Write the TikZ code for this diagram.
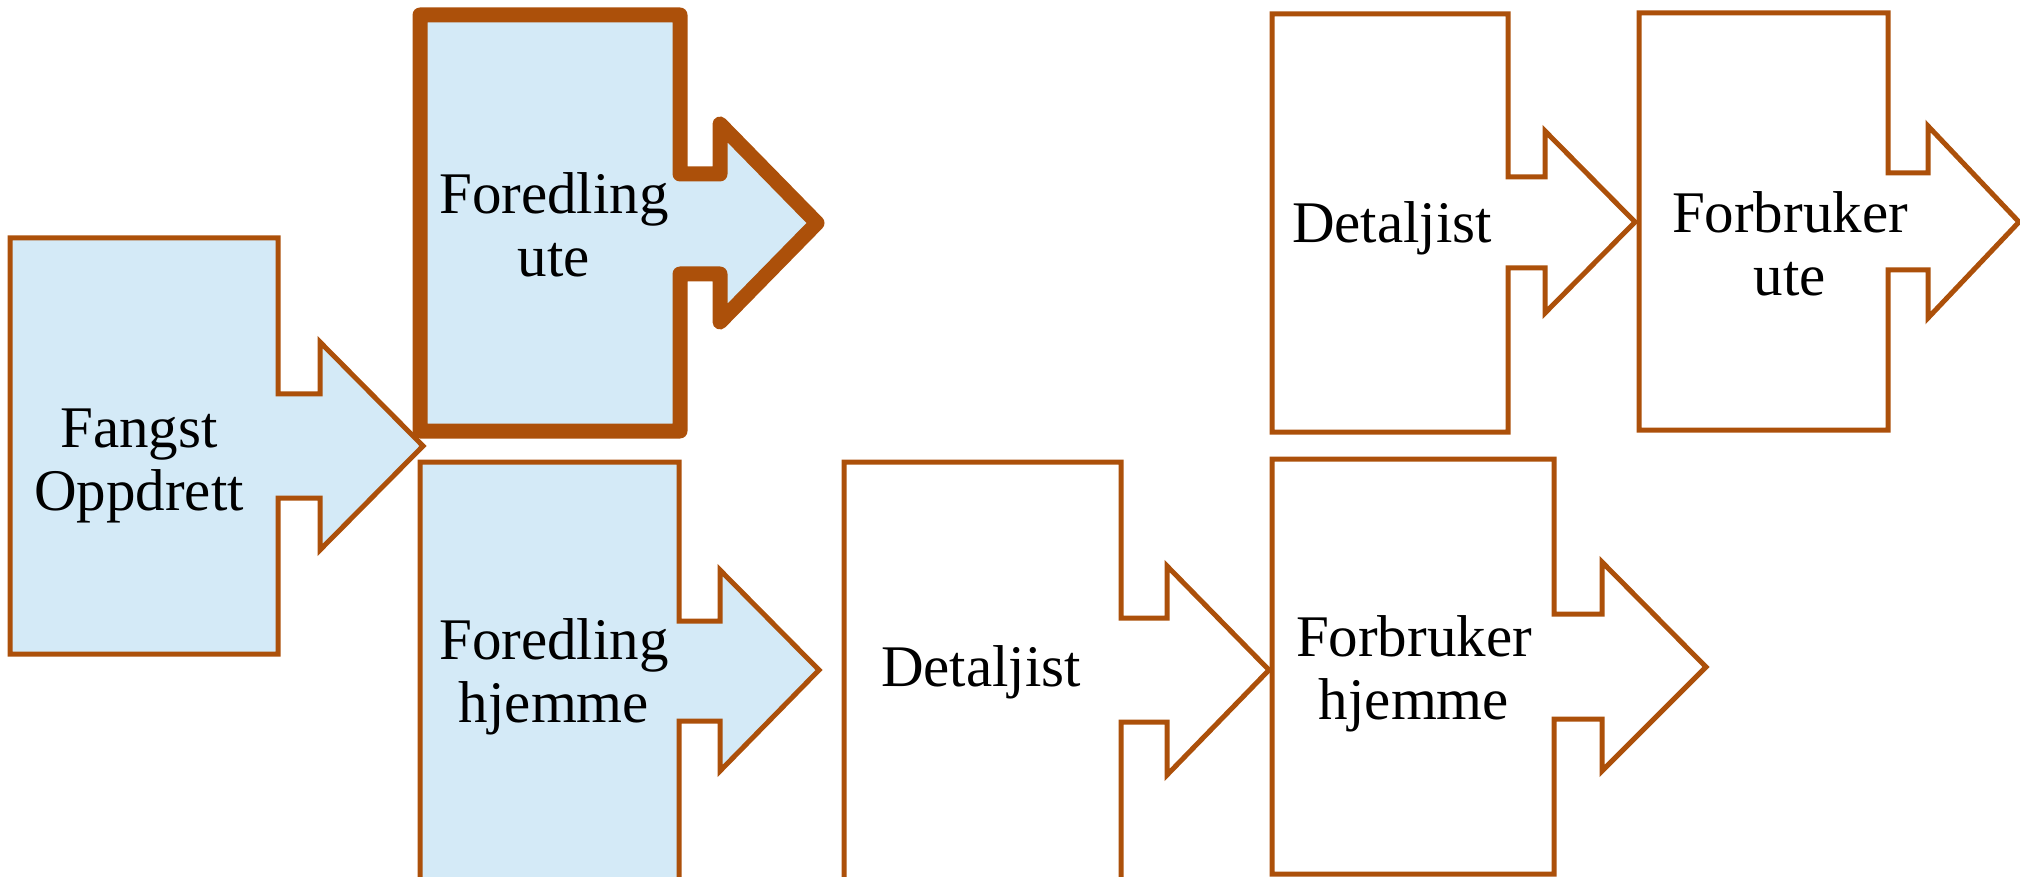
\documentclass[tikz,border=0pt]{standalone}
\usepackage{fontspec}
\setmainfont{Liberation Serif}
\definecolor{brd}{RGB}{172,80,10}
\definecolor{lblue}{RGB}{212,234,247}
\begin{document}
\begin{tikzpicture}[x=0.5pt,y=-0.5pt,
  shp/.style={draw=brd, line width=2.5pt, line join=miter},
  boldshp/.style={draw=brd, line width=7.5pt, line join=round},
  lbl/.style={font=\fontsize{29.5}{31.5}\selectfont, align=center, inner sep=0pt, text=black}]
\useasboundingbox (0,0) rectangle (2020,877);
\clip (0,0) rectangle (2020,877);
% Fangst / Oppdrett
\draw[shp, fill=lblue] (10,238) -- (278,238) -- (278,394) -- (320,394) -- (320,342) -- (423,446)
  -- (320,550) -- (320,498) -- (278,498) -- (278,654) -- (10,654) -- cycle;
% Foredling hjemme
\draw[shp, fill=lblue] (420,462) -- (679,462) -- (679,621) -- (720,621) -- (720,570) -- (819,670)
  -- (720,771) -- (720,721) -- (679,721) -- (679,885) -- (420,885) -- cycle;
% Foredling ute (bold)
\draw[boldshp, fill=lblue] (420,15) -- (680,15) -- (680,174) -- (720,174) -- (720,124) -- (817,223)
  -- (720,322) -- (720,274) -- (680,274) -- (680,431) -- (420,431) -- cycle;
% Detaljist (bottom)
\draw[shp, fill=white] (844,462) -- (1121,462) -- (1121,618) -- (1167,618) -- (1167,566) -- (1269,670)
  -- (1167,775) -- (1167,722) -- (1121,722) -- (1121,885) -- (844,885) -- cycle;
% Forbruker hjemme
\draw[shp, fill=white] (1272,459) -- (1554,459) -- (1554,614) -- (1602,614) -- (1602,562) -- (1706,667)
  -- (1602,771) -- (1602,719) -- (1554,719) -- (1554,874) -- (1272,874) -- cycle;
% Detaljist (top)
\draw[shp, fill=white] (1272,14) -- (1508,14) -- (1508,177) -- (1545,177) -- (1545,131) -- (1635,222)
  -- (1545,313) -- (1545,268) -- (1508,268) -- (1508,432) -- (1272,432) -- cycle;
% Forbruker ute
\draw[shp, fill=white] (1639,13) -- (1888,13) -- (1888,173) -- (1928,173) -- (1928,126) -- (2019,222)
  -- (1928,318) -- (1928,270) -- (1888,270) -- (1888,430) -- (1639,430) -- cycle;
% labels
\node[lbl] (fangst) at (139,466) {Fangst\strut\\Oppdrett\strut};
\node[lbl] (fute) at (554,232) {Foredling\strut\\ute\strut};
\node[lbl] (fhj) at (554,678) {Foredling\strut\\hjemme\strut};
\node[lbl] (det1) at (981,674) {Detaljist\strut};
\node[lbl] (fbhj) at (1414,675) {Forbruker\strut\\hjemme\strut};
\node[lbl] (det2) at (1392,230) {Detaljist\strut};
\node[lbl] (fbute) at (1790,251) {Forbruker\strut\\ute\strut};
\end{tikzpicture}
\end{document}
